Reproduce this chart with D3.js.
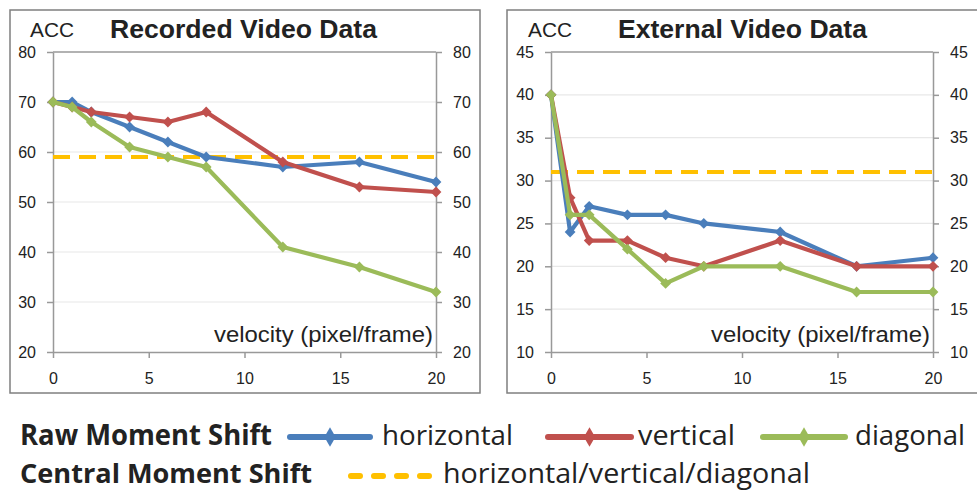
<!DOCTYPE html>
<html>
<head>
<meta charset="utf-8">
<script src="https://cdn.jsdelivr.net/npm/d3@7"></script>
<style>
  body { margin: 0; background: #fff; }
  svg { display: block; }
  text { font-family: "Liberation Sans", Arial, sans-serif; fill: #222; }
</style>
</head>
<body>
<svg width="977" height="491"></svg>
<script>
// velocity values on the x axis (pixel/frame)
var velocity = [0, 1, 2, 4, 6, 8, 12, 16, 20];
var xTicks = [0, 5, 10, 15, 20];

// Recorded video data
var recHorizontal = [70, 70, 68, 65, 62, 59, 57, 58, 54];
var recVertical   = [70, 69, 68, 67, 66, 68, 58, 53, 52];
var recDiagonal   = [70, 69, 66, 61, 59, 57, 41, 37, 32];
var recCentral = 59;
var recYTicks = [20, 30, 40, 50, 60, 70, 80];

// External video data
var extHorizontal = [40, 24, 27, 26, 26, 25, 24, 20, 21];
var extVertical   = [40, 28, 23, 23, 21, 20, 23, 20, 20];
var extDiagonal   = [40, 26, 26, 22, 18, 20, 20, 17, 17];
var extCentral = 31;
var extYTicks = [10, 15, 20, 25, 30, 35, 40, 45];

var seriesNames = ['horizontal', 'vertical', 'diagonal'];
var colors = {horizontal: '#4a7ebb', vertical: '#c0504d', diagonal: '#9bbb59', central: '#ffc000'};

var svg = d3.select('svg');

var drawPanel = function(p){
	var g = svg.append('g');

	// outer frame
	g.append('rect')
		.attr('x', p.box[0]).attr('y', 10)
		.attr('width', p.box[1] - p.box[0]).attr('height', 383)
		.attr('fill', 'none').attr('stroke', '#7f7f7f').attr('stroke-width', 1.5);

	var x = d3.scaleLinear().domain([0, 20]).range([p.left, p.right]);
	var y = d3.scaleLinear().domain([p.yTicks[0], p.yTicks[p.yTicks.length-1]]).range([352, 52]);

	// gridlines
	g.append('g').selectAll('line')
		.data(p.yTicks.slice(1, -1))
		.enter().append('line')
		.attr('x1', p.left).attr('x2', p.right)
		.attr('y1', y).attr('y2', y)
		.attr('stroke', '#e8e8e8').attr('stroke-width', 1.2);

	// plot border (top line)
	g.append('line')
		.attr('x1', p.left).attr('x2', p.right)
		.attr('y1', 52).attr('y2', 52)
		.attr('stroke', '#999').attr('stroke-width', 1.5);

	var styleAxis = function(sel){
		sel.select('.domain').attr('stroke', '#999').attr('stroke-width', 1.5);
		sel.selectAll('.tick line').attr('stroke', '#999').attr('stroke-width', 1.5);
		sel.selectAll('.tick text').style('font-size', '16px').attr('fill', '#222');
	};

	g.append('g').attr('transform', 'translate(' + p.left + ',0)')
		.call(d3.axisLeft(y).tickValues(p.yTicks).tickSize(6).tickSizeOuter(0).tickPadding(11))
		.call(styleAxis);
	g.append('g').attr('transform', 'translate(' + p.right + ',0)')
		.call(d3.axisRight(y).tickValues(p.yTicks).tickSize(6).tickSizeOuter(0).tickPadding(11))
		.call(styleAxis);
	g.append('g').attr('transform', 'translate(0,352)')
		.call(d3.axisBottom(x).tickValues(xTicks).tickSize(6).tickSizeOuter(0).tickPadding(15))
		.call(styleAxis);

	// texts
	g.append('text')
		.attr('x', p.accX).attr('y', 37)
		.attr('textLength', 44).attr('lengthAdjust', 'spacingAndGlyphs')
		.style('font-size', '20px')
		.text('ACC');
	g.append('text')
		.attr('x', p.titleX).attr('y', 38)
		.attr('textLength', p.titleW).attr('lengthAdjust', 'spacingAndGlyphs')
		.style('font-size', '25px').style('font-weight', 'bold')
		.text(p.title);
	g.append('text')
		.attr('x', p.right - 3).attr('y', 342)
		.attr('text-anchor', 'end')
		.attr('textLength', 219).attr('lengthAdjust', 'spacingAndGlyphs')
		.style('font-size', '22px')
		.text('velocity (pixel/frame)');

	// central moment shift (dashed)
	g.append('line')
		.attr('x1', p.left).attr('x2', p.right)
		.attr('y1', y(p.central)).attr('y2', y(p.central))
		.attr('stroke', colors.central).attr('stroke-width', 4)
		.attr('stroke-dasharray', '17 9');

	var line = d3.line()
		.x(function(d, i){ return x(velocity[i]); })
		.y(function(d){ return y(d); });

	var diamond = d3.symbol().type(d3.symbolSquare).size(58);

	seriesNames.forEach(function(name){
		var vals = p.series[name];
		g.append('path')
			.datum(vals)
			.attr('d', line)
			.attr('fill', 'none')
			.attr('stroke', colors[name])
			.attr('stroke-width', 4.2)
			.attr('stroke-linejoin', 'round');
		g.append('g').selectAll('path')
			.data(vals)
			.enter().append('path')
			.attr('d', diamond)
			.attr('transform', function(d, i){ return 'translate(' + x(velocity[i]) + ',' + y(d) + ') rotate(45)'; })
			.attr('fill', colors[name]);
	});
};

drawPanel({
	box: [10, 480], left: 53, right: 436,
	yTicks: recYTicks, central: recCentral,
	series: {horizontal: recHorizontal, vertical: recVertical, diagonal: recDiagonal},
	title: 'Recorded Video Data', titleX: 110, titleW: 267, accX: 30
});

drawPanel({
	box: [507, 1000], left: 551, right: 933,
	yTicks: extYTicks, central: extCentral,
	series: {horizontal: extHorizontal, vertical: extVertical, diagonal: extDiagonal},
	title: 'External Video Data', titleX: 618, titleW: 249, accX: 528
});

// legend
var legend = svg.append('g');
legend.append('text')
	.attr('x', 20).attr('y', 445)
	.attr('textLength', 252).attr('lengthAdjust', 'spacingAndGlyphs')
	.style('font-size', '28px').style('font-weight', 'bold')
	.style('font-family', '"Open Sans", sans-serif')
	.text('Raw Moment Shift');
legend.append('text')
	.attr('x', 20).attr('y', 483)
	.attr('textLength', 292).attr('lengthAdjust', 'spacingAndGlyphs')
	.style('font-size', '27px').style('font-weight', 'bold')
	.style('font-family', '"Open Sans", sans-serif')
	.text('Central Moment Shift');

var legendItems = [
	{name: 'horizontal', x1: 290, x2: 370, tx: 382, tw: 131},
	{name: 'vertical', x1: 548, x2: 631, tx: 638, tw: 97},
	{name: 'diagonal', x1: 763, x2: 845, tx: 855, tw: 110}
];
var legendDiamond = d3.symbol().type(d3.symbolDiamond).size(110);
legendItems.forEach(function(it){
	legend.append('line')
		.attr('x1', it.x1).attr('x2', it.x2)
		.attr('y1', 437).attr('y2', 437)
		.attr('stroke', colors[it.name]).attr('stroke-width', 6)
		.attr('stroke-linecap', 'round');
	legend.append('path')
		.attr('d', legendDiamond)
		.attr('transform', 'translate(' + ((it.x1 + it.x2) / 2) + ',437)')
		.attr('fill', colors[it.name]);
	legend.append('text')
		.attr('x', it.tx).attr('y', 445)
		.attr('textLength', it.tw).attr('lengthAdjust', 'spacingAndGlyphs')
		.style('font-size', '28px')
		.style('font-family', '"Open Sans", sans-serif')
		.text(it.name);
});

legend.append('line')
	.attr('x1', 351).attr('x2', 430)
	.attr('y1', 476).attr('y2', 476)
	.attr('stroke', colors.central).attr('stroke-width', 6)
	.attr('stroke-linecap', 'round')
	.attr('stroke-dasharray', '9 14');
legend.append('text')
	.attr('x', 443).attr('y', 483)
	.attr('textLength', 367).attr('lengthAdjust', 'spacingAndGlyphs')
	.style('font-size', '27px')
	.style('font-family', '"Open Sans", sans-serif')
	.text('horizontal/vertical/diagonal');
</script>
</body>
</html>
